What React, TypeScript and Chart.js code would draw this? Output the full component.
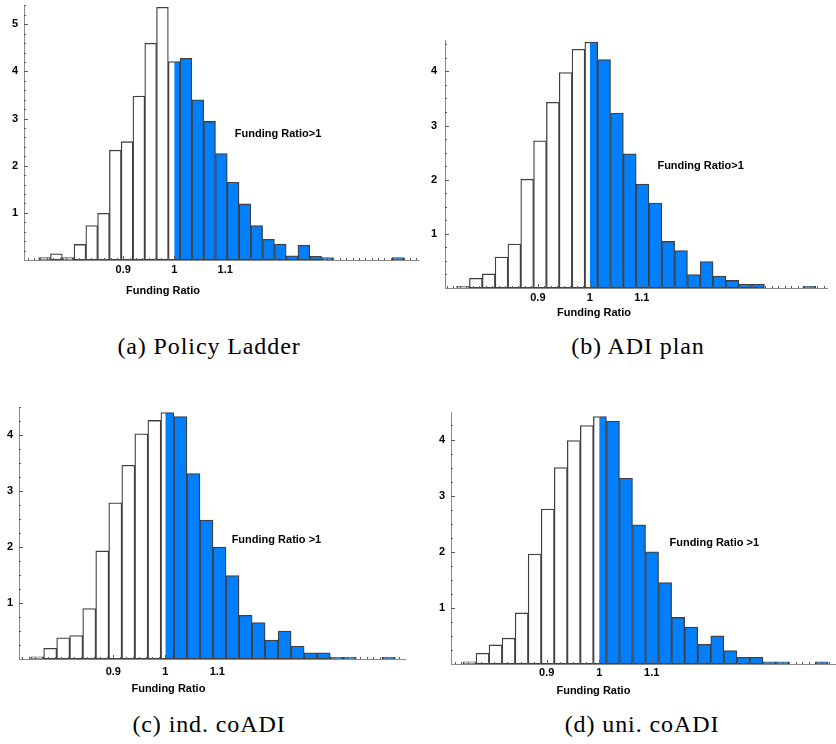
import React, { useEffect, useRef } from "react";
import { Chart, registerables } from "chart.js";

Chart.register(...registerables);

// ---------- data ----------
const FUNDING_THRESHOLD = 1;
const xTickValues = [0.9, 1, 1.1];
const xTickLabels = ["0.9", "1", "1.1"];
const xTitle = "Funding Ratio";

// (a) Policy Ladder
const ladderStart = 0.734;
const ladderWidth = 0.02313;
const ladderDensity = [0.05, 0.13, 0.05, 0.33, 0.73, 0.99, 2.33, 2.51, 3.48, 4.6, 5.36, 4.21, 4.28, 3.4, 2.94, 2.26, 1.65, 1.19, 0.73, 0.44, 0.34, 0.09, 0.31, 0.08, 0.05, 0, 0, 0, 0, 0, 0.05];
const ladderYTicks = [1, 2, 3, 4, 5];

// (b) ADI plan
const adiStart = 0.7436;
const adiWidth = 0.02468;
const adiDensity = [0.03, 0.18, 0.26, 0.57, 0.81, 2.01, 2.72, 3.43, 3.98, 4.41, 4.54, 4.22, 3.23, 2.48, 1.92, 1.57, 0.86, 0.69, 0.25, 0.49, 0.22, 0.14, 0.07, 0.07, 0, 0, 0, 0.03];
const adiYTicks = [1, 2, 3, 4];

// (c) ind. coADI
const indCoStart = 0.741;
const indCoWidth = 0.02505;
const indCoDensity = [0.04, 0.19, 0.38, 0.42, 0.9, 1.93, 2.79, 3.46, 4.02, 4.26, 4.4, 4.33, 3.31, 2.48, 2.0, 1.49, 0.78, 0.65, 0.34, 0.5, 0.23, 0.11, 0.11, 0.03, 0.03, 0, 0, 0.03];
const indCoYTicks = [1, 2, 3, 4];

// (d) uni. coADI
const uniCoStart = 0.7403;
const uniCoWidth = 0.02486;
const uniCoDensity = [0.04, 0.19, 0.34, 0.46, 0.91, 1.96, 2.76, 3.5, 3.98, 4.25, 4.41, 4.33, 3.31, 2.48, 2.0, 1.45, 0.83, 0.66, 0.35, 0.5, 0.24, 0.12, 0.12, 0.04, 0.04, 0, 0, 0.04];
const uniCoYTicks = [1, 2, 3, 4];

const captions = ["(a) Policy Ladder", "(b) ADI plan", "(c) ind. coADI", "(d) uni. coADI"];
const annotations = ["Funding Ratio>1", "Funding Ratio>1", "Funding Ratio >1", "Funding Ratio >1"];

// ---------- layout ----------
const panels = [
  {
    density: ladderDensity, start: ladderStart, width: ladderWidth, yTicks: ladderYTicks,
    box: { left: 0, top: 0, w: 420, h: 300 }, yAxisW: 24, padTop: 5, padRight: 2, xAxisH: 40,
    xMin: 0.7052, xMax: 1.4784, yMax: 5.41, yMinor: 0.2,
    titleX: 0.978, titleDy: 31, annotX: 1.119, annotY: 2.68, xPad: 3, yPad: 6,
    caption: captions[0], annot: annotations[0], capX: 209, capY: 346,
  },
  {
    density: adiDensity, start: adiStart, width: adiWidth, yTicks: adiYTicks,
    box: { left: 420, top: 30, w: 416, h: 300 }, yAxisW: 25, padTop: 10, padRight: 9, xAxisH: 42,
    xMin: 0.7212, xMax: 1.4564, yMax: 4.58, yMinor: 0.25,
    titleX: 1.008, titleDy: 25, annotX: 1.13, annotY: 2.25, xPad: 3, yPad: 8,
    caption: captions[1], annot: annotations[1], capX: 638, capY: 346,
  },
  {
    density: indCoDensity, start: indCoStart, width: indCoWidth, yTicks: indCoYTicks,
    box: { left: 0, top: 395, w: 420, h: 305 }, yAxisW: 19, padTop: 12, padRight: 15, xAxisH: 41,
    xMin: 0.7186, xMax: 1.461, yMax: 4.5, yMinor: 0.25,
    titleX: 1.006, titleDy: 30, annotX: 1.1276, annotY: 2.13, xPad: 6, yPad: 6,
    caption: captions[2], annot: annotations[2], capX: 209, capY: 724,
  },
  {
    density: uniCoDensity, start: uniCoStart, width: uniCoWidth, yTicks: uniCoYTicks,
    box: { left: 420, top: 400, w: 416, h: 305 }, yAxisW: 31, padTop: 12, padRight: 1, xAxisH: 41,
    xMin: 0.7175, xMax: 1.4495, yMax: 4.49, yMinor: 0.25,
    titleX: 0.989, titleDy: 27, annotX: 1.134, annotY: 2.15, xPad: 2, yPad: 6,
    caption: captions[3], annot: annotations[3], capX: 642, capY: 724,
  },
];

const BLUE = "#0080ff";
const EDGE = "#404040";
const AXIS = "#8a8a8a";
const LABEL_FONT = "bold 11px 'Liberation Sans', Arial, sans-serif";

const histDecor = {
  id: "histDecor",
  beforeDatasetDraw(chart: any, args: any, opts: any) {
    const xs = chart.scales.x;
    const ca = chart.chartArea;
    const split = xs.getPixelForValue(opts.threshold);
    const ctx = chart.ctx;
    ctx.save();
    ctx.beginPath();
    if (args.index === 0) {
      ctx.rect(ca.left - 3, ca.top - 3, split - ca.left + 3, ca.bottom - ca.top + 6);
    } else {
      ctx.rect(split, ca.top - 3, ca.right - split + 3, ca.bottom - ca.top + 6);
    }
    ctx.clip();
  },
  afterDatasetDraw(chart: any) {
    chart.ctx.restore();
  },
  afterDraw(chart: any, _args: any, opts: any) {
    const ctx = chart.ctx;
    const xs = chart.scales.x;
    const ys = chart.scales.y;
    const ca = chart.chartArea;
    ctx.save();
    ctx.strokeStyle = "#5a5a5a";
    ctx.lineWidth = 1;
    // x ticks (inward)
    const xStep = opts.xMinorStep;
    const kMin = Math.ceil((xs.min - 1) / xStep);
    const kMax = Math.floor((xs.max - 1) / xStep);
    for (let k = kMin; k <= kMax; k++) {
      const v = 1 + k * xStep;
      const major = xTickValues.some((t) => Math.abs(t - v) < 1e-6);
      const px = Math.round(xs.getPixelForValue(v)) + 0.5;
      ctx.beginPath();
      ctx.moveTo(px, ca.bottom);
      ctx.lineTo(px, ca.bottom - (major ? 4 : 2));
      ctx.stroke();
    }
    // y ticks (inward)
    const yStep = opts.yMinorStep;
    for (let v = yStep; v <= ys.max + 1e-9; v += yStep) {
      const major = Math.abs(v - Math.round(v)) < 1e-6;
      const py = Math.round(ys.getPixelForValue(v)) + 0.5;
      ctx.beginPath();
      ctx.moveTo(ca.left, py);
      ctx.lineTo(ca.left + (major ? 4 : 2), py);
      ctx.stroke();
    }
    // axis title and annotation
    ctx.fillStyle = "#000";
    ctx.font = LABEL_FONT;
    ctx.textBaseline = "middle";
    ctx.textAlign = "center";
    ctx.fillText(xTitle, xs.getPixelForValue(opts.titleX), ca.bottom + opts.titleDy);
    ctx.textAlign = "left";
    ctx.fillText(opts.annot, xs.getPixelForValue(opts.annotX), ys.getPixelForValue(opts.annotY));
    ctx.restore();
  },
};

function Histogram({ p }: { p: any }) {
  const ref = useRef<HTMLCanvasElement | null>(null);
  useEffect(() => {
    if (!ref.current) return;
    const centers = p.density.map((_: number, i: number) => p.start + (i + 0.5) * p.width);
    const lowPts: any[] = [];
    const highPts: any[] = [];
    p.density.forEach((v: number, i: number) => {
      const left = p.start + i * p.width;
      const right = left + p.width;
      if (left < FUNDING_THRESHOLD) lowPts.push({ x: centers[i], y: v });
      if (right > FUNDING_THRESHOLD) highPts.push({ x: centers[i], y: v });
    });
    const chart = new Chart(ref.current, {
      type: "bar",
      data: {
        datasets: [
          {
            label: "Funding Ratio <= 1",
            data: lowPts,
            backgroundColor: "#ffffff",
            borderColor: EDGE,
            borderWidth: 1.3,
            borderSkipped: false,
            grouped: false,
            barPercentage: 1,
            categoryPercentage: 1,
          },
          {
            label: "Funding Ratio > 1",
            data: highPts,
            backgroundColor: BLUE,
            borderColor: EDGE,
            borderWidth: 1.3,
            borderSkipped: false,
            grouped: false,
            barPercentage: 1,
            categoryPercentage: 1,
          },
        ] as any,
      },
      options: {
        responsive: false,
        animation: false,
        devicePixelRatio: 1,
        layout: { padding: { top: p.padTop, right: p.padRight, left: 0, bottom: 0 } },
        plugins: {
          legend: { display: false },
          tooltip: { enabled: false },
          histDecor: {
            threshold: FUNDING_THRESHOLD,
            xMinorStep: 0.0125,
            yMinorStep: p.yMinor,
            titleX: p.titleX,
            titleDy: p.titleDy,
            annotX: p.annotX,
            annotY: p.annotY,
            annot: p.annot,
          },
        } as any,
        scales: {
          x: {
            type: "linear",
            min: p.xMin,
            max: p.xMax,
            offset: false,
            grid: { display: false, drawTicks: false },
            border: { display: true, color: AXIS, width: 1 },
            ticks: {
              padding: p.xPad,
              color: "#000",
              font: { family: "'Liberation Sans', Arial, sans-serif", weight: "bold", size: 11 },
              maxRotation: 0,
              autoSkip: false,
              callback: (v: any) => {
                const i = xTickValues.findIndex((t) => Math.abs(t - Number(v)) < 1e-9);
                return i >= 0 ? xTickLabels[i] : "";
              },
            },
            afterBuildTicks: (s: any) => {
              s.ticks = xTickValues.map((v) => ({ value: v }));
            },
            afterFit: (s: any) => {
              s.height = p.xAxisH;
              s.paddingLeft = 0;
              s.paddingRight = 0;
            },
          },
          y: {
            type: "linear",
            min: 0,
            max: p.yMax,
            grid: { display: false, drawTicks: false },
            border: { display: true, color: AXIS, width: 1 },
            ticks: {
              padding: p.yPad,
              color: "#000",
              font: { family: "'Liberation Sans', Arial, sans-serif", weight: "bold", size: 11 },
              callback: (v: any) => String(v),
            },
            afterBuildTicks: (s: any) => {
              s.ticks = p.yTicks.map((v: number) => ({ value: v }));
            },
            afterFit: (s: any) => {
              s.width = p.yAxisW;
              s.paddingTop = 0;
              s.paddingBottom = 0;
            },
          },
        } as any,
      },
      plugins: [histDecor],
    } as any);
    return () => chart.destroy();
  }, [p]);
  return (
    <canvas
      ref={ref}
      width={p.box.w}
      height={p.box.h}
      style={{ position: "absolute", left: p.box.left, top: p.box.top, width: p.box.w, height: p.box.h }}
    />
  );
}

export default function App() {
  return (
    <div style={{ position: "absolute", left: 0, top: 0, width: 836, height: 744, background: "#fff", overflow: "hidden" }}>
      {panels.map((p, i) => (
        <Histogram key={i} p={p} />
      ))}
      {panels.map((p, i) => (
        <div
          key={"c" + i}
          style={{
            position: "absolute",
            left: p.capX - 150,
            top: p.capY - 15,
            width: 300,
            textAlign: "center",
            fontFamily: "'Liberation Serif', 'DejaVu Serif', serif",
            fontSize: 24,
            letterSpacing: "0.9px",
            lineHeight: "30px",
            color: "#000",
            whiteSpace: "nowrap",
          }}
        >
          {p.caption}
        </div>
      ))}
    </div>
  );
}
